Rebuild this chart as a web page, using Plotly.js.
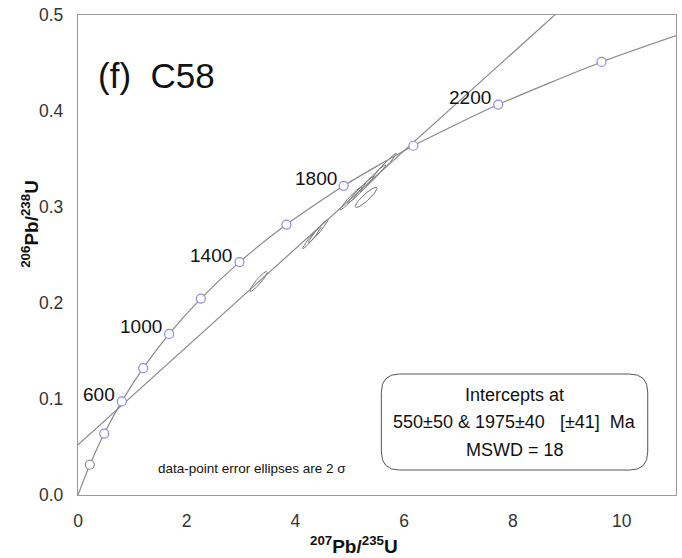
<!DOCTYPE html>
<html>
<head>
<meta charset="utf-8">
<script src="https://cdn.plot.ly/plotly-3.0.1.min.js"></script>
<style>html,body{margin:0;padding:0;background:#fff;}#chart{width:682px;height:558px;}</style>
</head>
<body>
<div id="chart"></div>
<script>
// Concordia reference points (age in Ma)
const concAges = [0, 200, 400, 600, 800, 1000, 1200, 1400, 1600, 1800, 2000, 2200, 2400, 2600];
const concX = [0, 0.218, 0.483, 0.806, 1.199, 1.677, 2.260, 2.970, 3.834, 4.887, 6.169, 7.730, 9.630, 11.945];
const concY = [0, 0.0315, 0.0640, 0.0975, 0.1321, 0.1678, 0.2046, 0.2426, 0.2817, 0.3221, 0.3638, 0.4067, 0.4511, 0.4968];
// Age marker circles
const markAges = [200, 400, 600, 800, 1000, 1200, 1400, 1600, 1800, 2000, 2200, 2400];
// Labelled ages
const labelAges = [600, 1000, 1400, 1800, 2200];
// Discordia line (550 & 1975 Ma intercepts), extended across the plot
const discX = [0, 9.2];
const discY = [0.0524, 0.522];
// Data-point error ellipses (2 sigma): centre, half-extent in x and y, correlation
const ellCx  = [3.32, 4.30, 4.42, 5.02, 5.20, 5.42, 5.64, 5.30];
const ellCy  = [0.2224, 0.268, 0.275, 0.309, 0.318, 0.330, 0.343, 0.310];
const ellSx  = [0.16, 0.17, 0.18, 0.20, 0.24, 0.24, 0.22, 0.20];
const ellSy  = [0.0105, 0.0115, 0.012, 0.012, 0.014, 0.014, 0.013, 0.0105];
const ellRho = [0.93, 0.97, 0.97, 0.97, 0.98, 0.98, 0.98, 0.90];
// Tick labels
const xTicks = [0, 2, 4, 6, 8, 10];
const yTicks = [0, 0.1, 0.2, 0.3, 0.4, 0.5];
const boxLines = ["Intercepts at", "550±50 & 1975±40   [±41]  Ma", "MSWD = 18"];

const FONT = 'Liberation Sans, Arial, sans-serif';
function idx(age){ return concAges.indexOf(age); }

const traces = [];
// ellipses
for (let i = 0; i < ellCx.length; i++) {
  const xs = [], ys = [];
  const r = ellRho[i], q = Math.sqrt(1 - r*r);
  for (let k = 0; k <= 72; k++) {
    const t = 2*Math.PI*k/72;
    xs.push(ellCx[i] + ellSx[i]*Math.cos(t));
    ys.push(ellCy[i] + ellSy[i]*(r*Math.cos(t) + q*Math.sin(t)));
  }
  traces.push({x: xs, y: ys, type: 'scatter', mode: 'lines',
    line: {color: '#777', width: 1}, hoverinfo: 'skip', showlegend: false});
}
// concordia
traces.push({x: concX, y: concY, type: 'scatter', mode: 'lines',
  line: {color: '#8a8a8a', width: 1.2, shape: 'spline', smoothing: 0.6},
  hoverinfo: 'skip', showlegend: false});
// discordia
traces.push({x: discX, y: discY, type: 'scatter', mode: 'lines',
  line: {color: '#8a8a8a', width: 1.2}, hoverinfo: 'skip', showlegend: false});
// markers
const mx = markAges.map(a => concX[idx(a)]);
const my = markAges.map(a => concY[idx(a)]);
const mcol = markAges.map((a, i) => i === 0 ? '#8a8a8a' : '#8c8ce0');
traces.push({x: mx, y: my, type: 'scatter', mode: 'markers',
  marker: {symbol: 'circle', size: 9, color: '#ffffff', line: {width: 1.2, color: mcol}},
  hoverinfo: 'skip', showlegend: false});

const annotations = [];
labelAges.forEach(a => {
  annotations.push({x: concX[idx(a)], y: concY[idx(a)], xref: 'x', yref: 'y',
    text: String(a), showarrow: false, xanchor: 'right', yanchor: 'middle',
    xshift: -5, yshift: 7, font: {family: FONT, size: 19, color: '#111'}});
});
annotations.push({x: 0.33, y: 0.437, xref: 'x', yref: 'y', text: '(f)  C58', showarrow: false,
  xanchor: 'left', yanchor: 'middle', font: {family: FONT, size: 35, color: '#111'}});
annotations.push({x: 3.20, y: 0.0271, xref: 'x', yref: 'y', text: 'data-point error ellipses are 2 σ',
  showarrow: false, xanchor: 'center', yanchor: 'middle', font: {family: FONT, size: 13.5, color: '#111'}});
const boxY = [0.104, 0.076, 0.047];
boxLines.forEach((t, i) => {
  annotations.push({x: 8.03, y: boxY[i], xref: 'x', yref: 'y', text: t, showarrow: false,
    xanchor: 'center', yanchor: 'middle', font: {family: FONT, size: 18, color: '#111'}});
});
// axis titles
annotations.push({x: -0.0803, y: 0.565, xref: 'paper', yref: 'paper', textangle: -90,
  text: '<b><sup>206</sup>Pb/<sup>238</sup>U</b>', showarrow: false, xanchor: 'center', yanchor: 'middle',
  font: {family: FONT, size: 19, color: '#111'}});
annotations.push({x: 0.4615, y: -0.104, xref: 'paper', yref: 'paper',
  text: '<b><sup>207</sup>Pb/<sup>235</sup>U</b>', showarrow: false, xanchor: 'center', yanchor: 'middle',
  font: {family: FONT, size: 19, color: '#111'}});

// rounded box path in data coords
const bx0 = 5.58, bx1 = 10.48, by0 = 0.026, by1 = 0.126, rx = 0.33, ry = 0.019;
const boxPath = `M ${bx0+rx},${by1} L ${bx1-rx},${by1} Q ${bx1},${by1} ${bx1},${by1-ry} L ${bx1},${by0+ry} Q ${bx1},${by0} ${bx1-rx},${by0} L ${bx0+rx},${by0} Q ${bx0},${by0} ${bx0},${by0+ry} L ${bx0},${by1-ry} Q ${bx0},${by1} ${bx0+rx},${by1} Z`;

const layout = {
  width: 682, height: 558,
  margin: {l: 78, r: 6, t: 15, b: 63},
  paper_bgcolor: '#fff', plot_bgcolor: '#fff',
  font: {family: FONT, color: '#333'},
  xaxis: {range: [0, 11], tickvals: xTicks, ticktext: xTicks.map(String),
    showgrid: false, zeroline: false, showline: true, mirror: true, linecolor: '#999', linewidth: 1.2,
    ticks: '', ticklabelstandoff: 10, tickfont: {family: FONT, size: 17.5, color: '#333'}},
  yaxis: {range: [0, 0.5], tickvals: yTicks, ticktext: yTicks.map(v => v.toFixed(1)),
    showgrid: false, zeroline: false, showline: true, mirror: true, linecolor: '#999', linewidth: 1.2,
    ticks: '', ticklabelstandoff: 10, tickfont: {family: FONT, size: 17.5, color: '#333'}},
  shapes: [{type: 'path', path: boxPath, xref: 'x', yref: 'y', line: {color: '#555', width: 1}, fillcolor: 'rgba(0,0,0,0)'}],
  annotations: annotations,
  showlegend: false
};
Plotly.newPlot('chart', traces, layout, {displayModeBar: false, staticPlot: true});
</script>
</body>
</html>
